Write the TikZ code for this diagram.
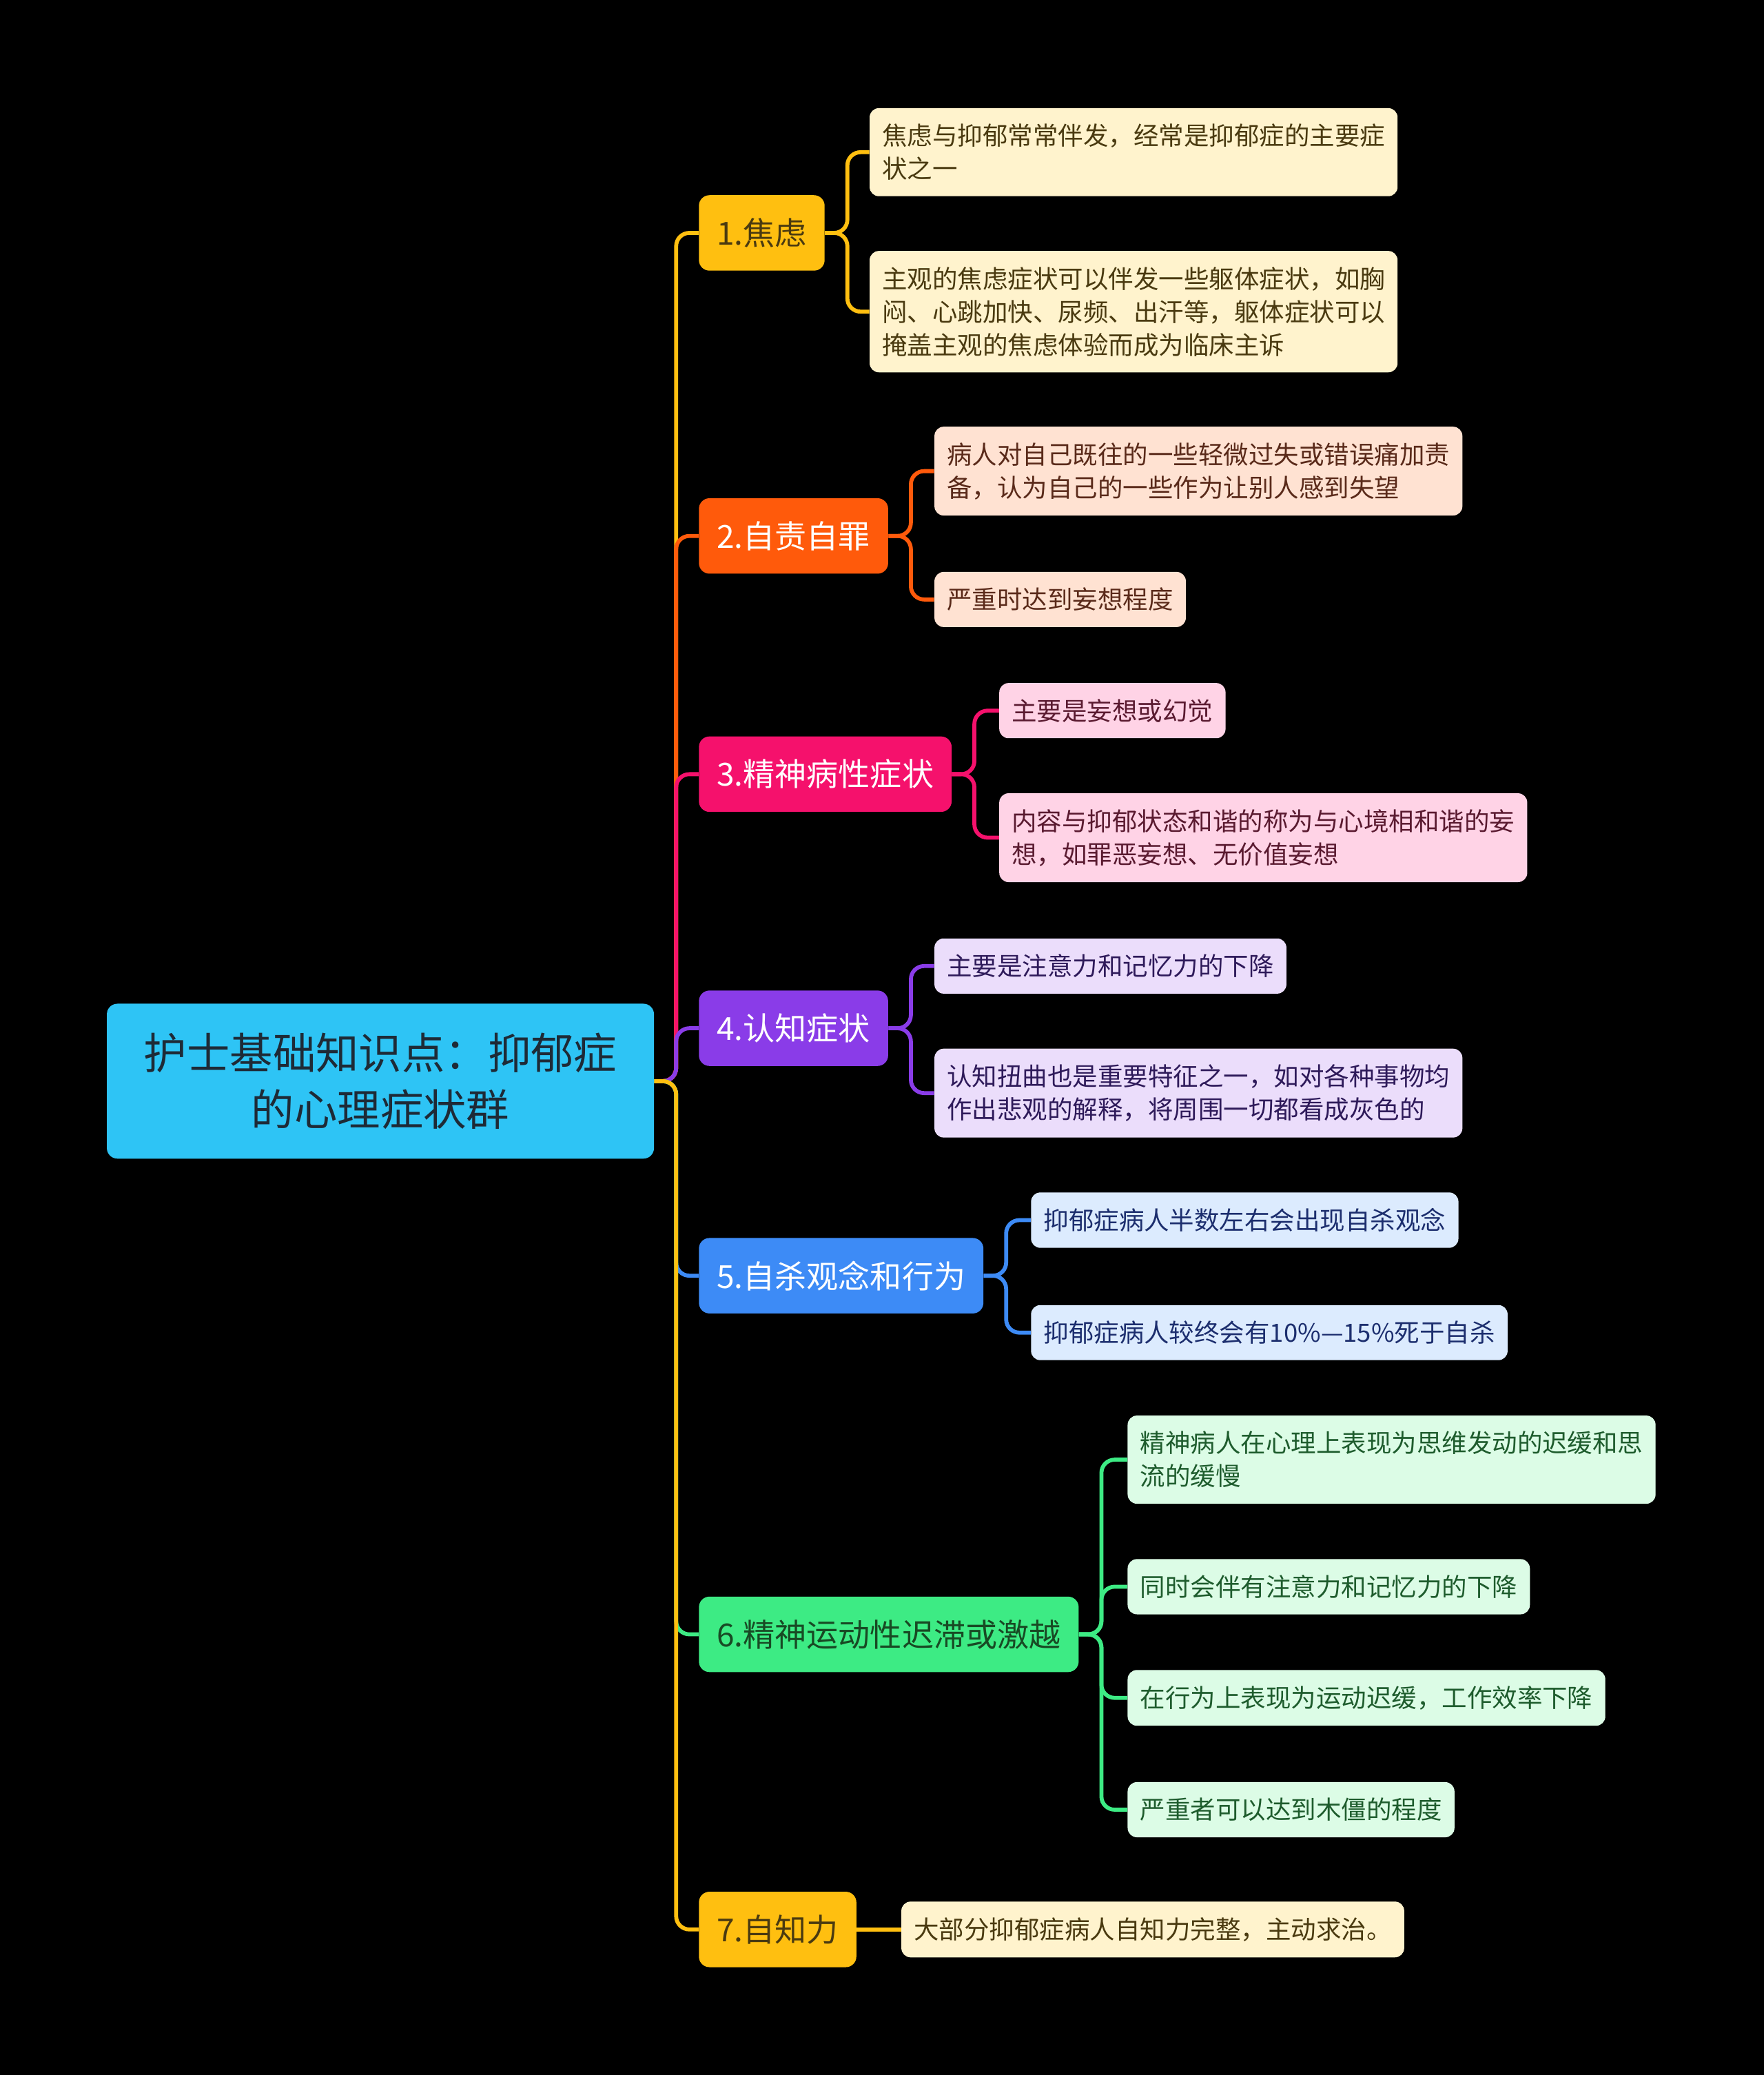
\documentclass[tikz,border=0pt]{standalone}
\usepackage{fontspec}
\setmainfont{Noto Sans CJK SC}
\usetikzlibrary{calc}
\definecolor{RootClr}{HTML}{2EC4F5}
\definecolor{RootTxt}{HTML}{1E2A36}
\definecolor{AmberClr}{HTML}{FFBF10}
\definecolor{AmberLeaf}{HTML}{FFF3CD}
\definecolor{AmberTxt}{HTML}{4A3A10}
\definecolor{OrangeClr}{HTML}{FF5A0B}
\definecolor{OrangeLeaf}{HTML}{FFE2D2}
\definecolor{OrangeTxt}{HTML}{5A2A1A}
\definecolor{PinkClr}{HTML}{F5116C}
\definecolor{PinkLeaf}{HTML}{FFD3E6}
\definecolor{PinkTxt}{HTML}{5A1A30}
\definecolor{PurpleClr}{HTML}{8A3CE8}
\definecolor{PurpleLeaf}{HTML}{EBDDFB}
\definecolor{PurpleTxt}{HTML}{2E1A5A}
\definecolor{BlueClr}{HTML}{3D8BF6}
\definecolor{BlueLeaf}{HTML}{DCEBFE}
\definecolor{BlueTxt}{HTML}{1C2E6E}
\definecolor{GreenClr}{HTML}{3DEB84}
\definecolor{GreenLeaf}{HTML}{DCFCE6}
\definecolor{GreenTxt}{HTML}{1E5C2D}

\begin{document}
\begin{tikzpicture}[x=1pt,y=-1pt,
  root/.style={fill=RootClr,text=RootTxt,rounded corners=8pt,inner xsep=28pt,inner ysep=22pt,align=center,font=\fontsize{32.5}{43}\selectfont},
  topic/.style={rounded corners=8pt,inner xsep=13.5pt,minimum height=57pt,anchor=west,font=\fontsize{24}{30}\selectfont},
  leaf/.style={rounded corners=7pt,inner xsep=9.5pt,inner ysep=12pt,align=left,anchor=west,font=\fontsize{19}{25}\selectfont},
  link/.style={line width=3pt,rounded corners=10pt}]
\useasboundingbox (0,0) rectangle (1333,1568);
\fill[black] (0,0) rectangle (1333,1568);

% main topic and trunk
\node[root] (root) at (287.5,817) {护士基础知识点：抑郁症\\的心理症状群};
\coordinate (trunk) at (511,817);

% branches
\node[topic,fill=AmberClr,text=AmberTxt] (t1) at (528,176) {1.焦虑};
\node[topic,fill=OrangeClr,text=white] (t2) at (528,405) {2.自责自罪};
\node[topic,fill=PinkClr,text=white] (t3) at (528,585) {3.精神病性症状};
\node[topic,fill=PurpleClr,text=white] (t4) at (528,777) {4.认知症状};
\node[topic,fill=BlueClr,text=white] (t5) at (528,964) {5.自杀观念和行为};
\node[topic,fill=GreenClr,text=GreenTxt!80!black] (t6) at (528,1235) {6.精神运动性迟滞或激越};
\node[topic,fill=AmberClr,text=AmberTxt] (t7) at (528,1458) {7.自知力};

% leaves
\node[leaf,fill=AmberLeaf,text=AmberTxt] (l11) at (657,115) {焦虑与抑郁常常伴发，经常是抑郁症的主要症\\状之一};
\node[leaf,fill=AmberLeaf,text=AmberTxt] (l12) at (657,235.5) {主观的焦虑症状可以伴发一些躯体症状，如胸\\闷、心跳加快、尿频、出汗等，躯体症状可以\\掩盖主观的焦虑体验而成为临床主诉};
\node[leaf,fill=OrangeLeaf,text=OrangeTxt] (l21) at (706,356) {病人对自己既往的一些轻微过失或错误痛加责\\备，认为自己的一些作为让别人感到失望};
\node[leaf,fill=OrangeLeaf,text=OrangeTxt] (l22) at (706,453) {严重时达到妄想程度};
\node[leaf,fill=PinkLeaf,text=PinkTxt] (l31) at (755,537) {主要是妄想或幻觉};
\node[leaf,fill=PinkLeaf,text=PinkTxt] (l32) at (755,633) {内容与抑郁状态和谐的称为与心境相和谐的妄\\想，如罪恶妄想、无价值妄想};
\node[leaf,fill=PurpleLeaf,text=PurpleTxt] (l41) at (706,730) {主要是注意力和记忆力的下降};
\node[leaf,fill=PurpleLeaf,text=PurpleTxt] (l42) at (706,826) {认知扭曲也是重要特征之一，如对各种事物均\\作出悲观的解释，将周围一切都看成灰色的};
\node[leaf,fill=BlueLeaf,text=BlueTxt] (l51) at (779,922) {抑郁症病人半数左右会出现自杀观念};
\node[leaf,fill=BlueLeaf,text=BlueTxt] (l52) at (779,1007) {抑郁症病人较终会有10\%—15\%死于自杀};
\node[leaf,fill=GreenLeaf,text=GreenTxt] (l61) at (852,1103) {精神病人在心理上表现为思维发动的迟缓和思\\流的缓慢};
\node[leaf,fill=GreenLeaf,text=GreenTxt] (l62) at (852,1199) {同时会伴有注意力和记忆力的下降};
\node[leaf,fill=GreenLeaf,text=GreenTxt] (l63) at (852,1283) {在行为上表现为运动迟缓，工作效率下降};
\node[leaf,fill=GreenLeaf,text=GreenTxt] (l64) at (852,1367.5) {严重者可以达到木僵的程度};
\node[leaf,fill=AmberLeaf,text=AmberTxt] (l71) at (681,1458) {大部分抑郁症病人自知力完整，主动求治。};

% trunk links, later ones on top
\draw[link,AmberClr] (root.east) -- (trunk) |- (t1.west);
\draw[link,OrangeClr] (root.east) -- (trunk) |- (t2.west);
\draw[link,PinkClr] (root.east) -- (trunk) |- (t3.west);
\draw[link,PurpleClr] (root.east) -- (trunk) |- (t4.west);
\draw[link,BlueClr] (root.east) -- (trunk) |- (t5.west);
\draw[link,GreenClr] (root.east) -- (trunk) |- (t6.west);
\draw[link,AmberClr] (root.east) -- (trunk) |- (t7.west);

% leaf links
\draw[link,AmberClr] (t1.east) -- ++(17,0) |- (l11.west);
\draw[link,AmberClr] (t1.east) -- ++(17,0) |- (l12.west);
\draw[link,OrangeClr] (t2.east) -- ++(17,0) |- (l21.west);
\draw[link,OrangeClr] (t2.east) -- ++(17,0) |- (l22.west);
\draw[link,PinkClr] (t3.east) -- ++(17,0) |- (l31.west);
\draw[link,PinkClr] (t3.east) -- ++(17,0) |- (l32.west);
\draw[link,PurpleClr] (t4.east) -- ++(17,0) |- (l41.west);
\draw[link,PurpleClr] (t4.east) -- ++(17,0) |- (l42.west);
\draw[link,BlueClr] (t5.east) -- ++(17,0) |- (l51.west);
\draw[link,BlueClr] (t5.east) -- ++(17,0) |- (l52.west);
\draw[link,GreenClr] (t6.east) -- ++(17,0) |- (l61.west);
\draw[link,GreenClr] (t6.east) -- ++(17,0) |- (l62.west);
\draw[link,GreenClr] (t6.east) -- ++(17,0) |- (l63.west);
\draw[link,GreenClr] (t6.east) -- ++(17,0) |- (l64.west);
\draw[link,AmberClr] (t7.east) -- (l71.west);
\end{tikzpicture}
\end{document}
